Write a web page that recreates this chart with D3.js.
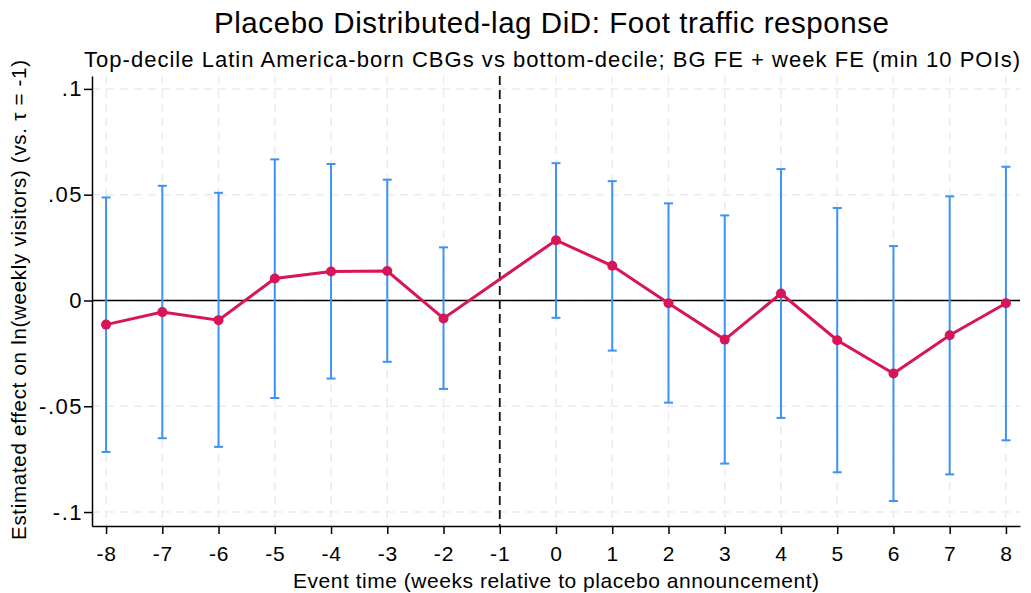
<!DOCTYPE html>
<html>
<head>
<meta charset="utf-8">
<script src="https://cdn.jsdelivr.net/npm/d3@7"></script>
<style>
  body { margin: 0; background: #fff; }
  text { font-family: "Liberation Sans", Arial, sans-serif; fill: #000; }
</style>
</head>
<body>
<div id="chart"></div>
<script>
var eventTimes = [-8, -7, -6, -5, -4, -3, -2, 0, 1, 2, 3, 4, 5, 6, 7, 8];
var estimates = [-0.0114, -0.0055, -0.0093, 0.0104, 0.0137, 0.0139, -0.0085, 0.0285, 0.0164, -0.0013, -0.0185, 0.0033, -0.0188, -0.0345, -0.0164, -0.0013];
var ciUpper = [0.0487, 0.0542, 0.0509, 0.0667, 0.0645, 0.0571, 0.0251, 0.0649, 0.0564, 0.0459, 0.0402, 0.0621, 0.0437, 0.0257, 0.0492, 0.0632];
var ciLower = [-0.0716, -0.0651, -0.0692, -0.0461, -0.0369, -0.0290, -0.0418, -0.0082, -0.0237, -0.0483, -0.0771, -0.0555, -0.0812, -0.0948, -0.0822, -0.0661];
var xTicks = [-8, -7, -6, -5, -4, -3, -2, -1, 0, 1, 2, 3, 4, 5, 6, 7, 8];
var yTicks = [-0.1, -0.05, 0, 0.05, 0.1];
var yTickLabels = ["-.1", "-.05", "0", ".05", ".1"];

var width = 1031, height = 593;
var margin = {top: 76, right: 11, bottom: 67, left: 92};
var w = width - margin.left - margin.right;
var h = height - margin.top - margin.bottom;

var svg = d3.select("#chart").append("svg")
  .attr("width", width)
  .attr("height", height);

var x = d3.scaleLinear().domain([-8.25, 8.25]).range([0, w]);
var y = d3.scaleLinear().domain([-0.1066, 0.1061]).range([h, 0]);

var data = eventTimes.map(function(t, i) {
  return {t: t, b: estimates[i], hi: ciUpper[i], lo: ciLower[i]};
});

var g = svg.append("g").attr("transform", "translate(" + margin.left + "," + margin.top + ")");

// grid
g.selectAll(".vgrid").data(xTicks).enter().append("line")
  .attr("x1", function(d) { return x(d); })
  .attr("x2", function(d) { return x(d); })
  .attr("y1", 0).attr("y2", h)
  .style("stroke", "#ebebeb").style("stroke-width", 1.5)
  .style("stroke-dasharray", "8,6");
g.selectAll(".hgrid").data(yTicks).enter().append("line")
  .attr("x1", 0).attr("x2", w)
  .attr("y1", function(d) { return y(d); })
  .attr("y2", function(d) { return y(d); })
  .style("stroke", "#ebebeb").style("stroke-width", 1.5)
  .style("stroke-dasharray", "8,6");

// zero line
g.append("line")
  .attr("x1", 0).attr("x2", w)
  .attr("y1", y(0)).attr("y2", y(0))
  .style("stroke", "#000").style("stroke-width", 1.5);

// reference line at -1
g.append("line")
  .attr("x1", x(-1)).attr("x2", x(-1))
  .attr("y1", 0).attr("y2", h)
  .style("stroke", "#111").style("stroke-width", 1.8)
  .style("stroke-dasharray", "9,5");

// axes
var xAxis = g.append("g")
  .attr("transform", "translate(0," + h + ")")
  .call(d3.axisBottom(x).tickValues(xTicks).tickSize(8).tickPadding(12).tickSizeOuter(0)
    .tickFormat(function(d) { return d; }));
var yAxis = g.append("g")
  .call(d3.axisLeft(y).tickValues(yTicks).tickSize(8).tickPadding(1).tickSizeOuter(0)
    .tickFormat(function(d, i) { return yTickLabels[i]; }));
[xAxis, yAxis].forEach(function(a) {
  a.select(".domain").style("stroke", "#000").style("stroke-width", 1.5);
  a.selectAll(".tick line").style("stroke", "#000").style("stroke-width", 1.5);
  a.selectAll("text").style("font-size", "21px").style("font-family", "Liberation Sans, Arial, sans-serif").attr("fill", "#000");
});
xAxis.selectAll("text").style("letter-spacing", "0.8px");
yAxis.selectAll("text").style("font-size", "22px").style("letter-spacing", "1.5px");

// error bars
var eb = g.selectAll(".eb").data(data).enter().append("g");
eb.append("line")
  .attr("x1", function(d) { return x(d.t); })
  .attr("x2", function(d) { return x(d.t); })
  .attr("y1", function(d) { return y(d.hi); })
  .attr("y2", function(d) { return y(d.lo); })
  .style("stroke", "#3d93f5").style("stroke-width", 2);
eb.append("line")
  .attr("x1", function(d) { return x(d.t) - 4.5; })
  .attr("x2", function(d) { return x(d.t) + 4.5; })
  .attr("y1", function(d) { return y(d.hi); })
  .attr("y2", function(d) { return y(d.hi); })
  .style("stroke", "#3d93f5").style("stroke-width", 2);
eb.append("line")
  .attr("x1", function(d) { return x(d.t) - 4.5; })
  .attr("x2", function(d) { return x(d.t) + 4.5; })
  .attr("y1", function(d) { return y(d.lo); })
  .attr("y2", function(d) { return y(d.lo); })
  .style("stroke", "#3d93f5").style("stroke-width", 2);

// estimate line
var line = d3.line()
  .x(function(d) { return x(d.t); })
  .y(function(d) { return y(d.b); });
g.append("path")
  .datum(data)
  .attr("d", line)
  .style("fill", "none")
  .style("stroke", "#d7155a")
  .style("stroke-width", 3);
g.selectAll(".pt").data(data).enter().append("circle")
  .attr("cx", function(d) { return x(d.t); })
  .attr("cy", function(d) { return y(d.b); })
  .attr("r", 5)
  .style("fill", "#d7155a");

// titles (stretched to the widths seen in the original)
svg.append("text")
  .attr("x", 551.5).attr("y", 33)
  .attr("text-anchor", "middle")
  .attr("textLength", 675).attr("lengthAdjust", "spacing")
  .style("font-size", "29.5px")
  .text("Placebo Distributed-lag DiD: Foot traffic response");
svg.append("text")
  .attr("x", 552).attr("y", 67)
  .attr("text-anchor", "middle")
  .attr("textLength", 936).attr("lengthAdjust", "spacing")
  .style("font-size", "22px")
  .text("Top-decile Latin America-born CBGs vs bottom-decile; BG FE + week FE (min 10 POIs)");
svg.append("text")
  .attr("x", 556).attr("y", 588)
  .attr("text-anchor", "middle")
  .attr("textLength", 526).attr("lengthAdjust", "spacing")
  .style("font-size", "21px")
  .text("Event time (weeks relative to placebo announcement)");
svg.append("text")
  .attr("transform", "translate(26,300) rotate(-90)")
  .attr("text-anchor", "middle")
  .attr("textLength", 480).attr("lengthAdjust", "spacing")
  .style("font-size", "20.5px")
  .text("Estimated effect on ln(weekly visitors) (vs. τ = -1)");
</script>
</body>
</html>
